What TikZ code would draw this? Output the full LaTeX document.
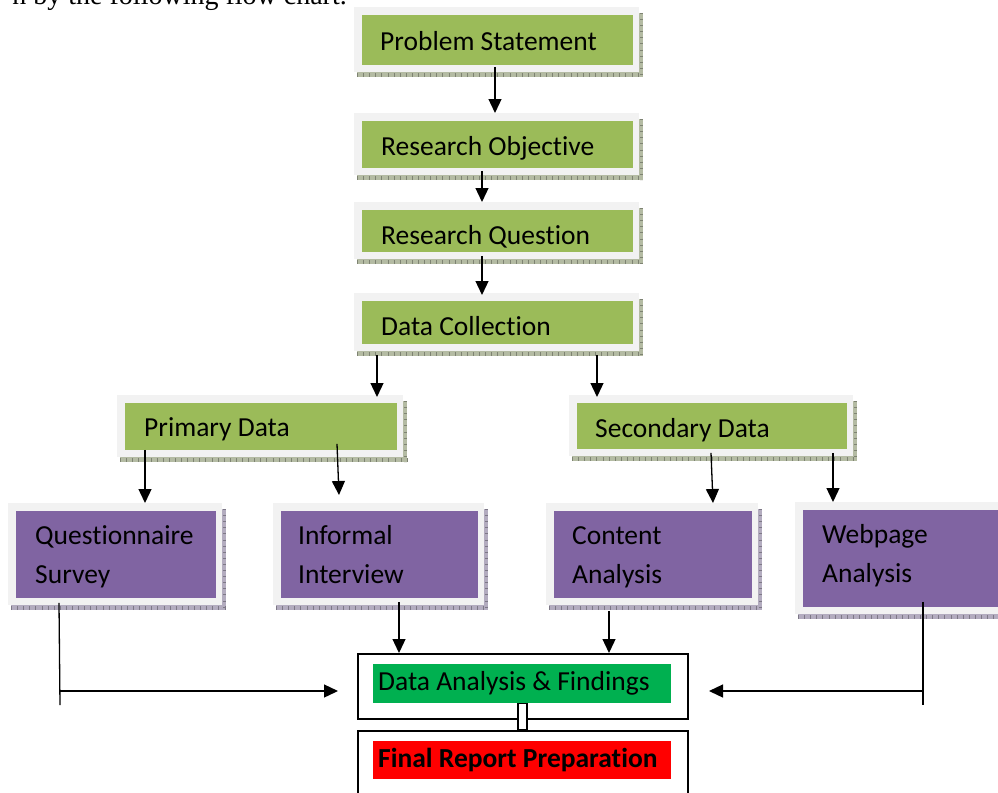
\documentclass[tikz,border=0pt]{standalone}
\usepackage{fontspec}
\setmainfont{Carlito}[Ligatures={NoCommon,NoContextual}]
\newfontfamily\serifx{Liberation Serif}
\usetikzlibrary{arrows.meta,calc}
\definecolor{boxgreen}{HTML}{9BBB59}
\definecolor{boxpurple}{HTML}{8064A2}
\definecolor{framegray}{HTML}{F2F2F2}
\definecolor{dagreen}{HTML}{00B050}
\definecolor{frred}{HTML}{FF0000}
\definecolor{shg}{HTML}{B4BBA3}
\definecolor{shp}{HTML}{B3ACBF}
\newcommand\mybox[7]{%
  \fill[#7] (#2+3,#3+6) rectangle (#4+4,#5+5);
  \draw[#7!70!black, line width=3.5pt, dash pattern=on 0.6pt off 5.5pt] (#2+3,#5+3.2) -- (#4+4,#5+3.2);
  \draw[#7!70!black, line width=3pt, dash pattern=on 0.6pt off 5.5pt] (#4+2.5,#3+6) -- (#4+2.5,#5+5);
  \node[fill=framegray, inner sep=0pt, minimum width={#4-#2}, minimum height={#5-#3}, anchor=north west] (#1) at (#2,#3) {};
  \node[fill=#6, inner sep=0pt, minimum width={#4-#2-14}, minimum height={#5-#3-15}, anchor=north west] (#1i) at (#2+7.5,#3+7.5) {};
}
\begin{document}
\begin{tikzpicture}[x=1pt,y=-1pt,
  txt/.style={anchor=base west, inner sep=0pt, font=\fontsize{27.5}{39}\selectfont},
  txt2/.style={txt, text width=200pt, align=left},
  arr/.style={line width=1.3pt, -{Triangle[length=14pt,width=13pt]}},
  ln/.style={line width=1.3pt}]
\useasboundingbox (0,0) rectangle (998,792);
\clip (0,0) rectangle (998,792);

% intro text (cut at top)
\node[anchor=base east, inner sep=0pt, font=\serifx\fontsize{28}{30}\selectfont] (intro) at (347,5) {n by the following flow chart.};

% green boxes
\mybox{ps}{354}{7}{639}{72}{boxgreen}{shg}
\mybox{ro}{354}{113}{639}{175}{boxgreen}{shg}
\mybox{rq}{354}{202}{639}{259}{boxgreen}{shg}
\mybox{dc}{354}{293}{639}{351}{boxgreen}{shg}
\mybox{pd}{117}{395}{403}{457}{boxgreen}{shg}
\mybox{sd}{569}{395}{853}{456}{boxgreen}{shg}

% purple boxes
\mybox{qs}{8}{503}{222}{605}{boxpurple}{shp}
\mybox{ii}{273}{503}{484}{605}{boxpurple}{shp}
\mybox{ca}{546}{503}{758}{605}{boxpurple}{shp}
\mybox{wa}{795}{502}{1012}{614}{boxpurple}{shp}

% texts
\node[txt] (pst) at (380,51) {Problem Statement};
\node[txt] (rot) at (381,155) {Research Objective};
\node[txt] (rqt) at (381,244) {Research Question};
\node[txt] (dct) at (381,335) {Data Collection};
\node[txt] (pdt) at (144,436) {Primary Data};
\node[txt] (sdt) at (595,437) {Secondary Data};
\node[txt2] (qst) at (35,544) {Questionnaire\\Survey};
\node[txt2] (iit) at (298,544) {Informal\\Interview};
\node[txt2] (cat) at (572,544) {Content\\Analysis};
\node[txt2] (wat) at (822,543) {Webpage\\Analysis};

% bottom boxes
\node[draw, line width=2pt, inner sep=0pt, minimum width=330, minimum height=65, anchor=north west] (da) at (357,653) {};
\node[fill=dagreen, inner sep=0pt, minimum width=298, minimum height=39, anchor=north west] (dai) at (373,664) {};
\node[txt] (dat) at (378,690) {Data Analysis \& Findings};
\node[draw, line width=2pt, inner sep=0pt, minimum width=330, minimum height=90, anchor=north west] (fr) at (357,730) {};
\node[fill=frred, inner sep=0pt, minimum width=298, minimum height=38, anchor=north west] (fri) at (373,741) {};
\node[txt, font=\bfseries\fontsize{27.5}{39}\selectfont] (frt) at (378,767) {Final Report Preparation};
\draw[line width=1.5pt, fill=white] (518,0 |- dai.south) rectangle (527,0 |- fr.north);

% connectors
\draw[arr] ($(psi.south -| 495,0)+(0,2)$) -- (495,0 |- ro.north);
\draw[arr] ($(roi.south -| 482,0)+(0,3)$) -- (482,0 |- rq.north);
\draw[arr] ($(rqi.south -| 482,0)+(0,4)$) -- ($(dc.north -| 482,0)+(0,2)$);
\draw[arr] ($(dc.south -| 377,0)+(0,4)$) -- ($(pd.north -| 377,0)+(0,2)$);
\draw[arr] ($(dc.south -| 597,0)+(0,4)$) -- ($(sd.north -| 597,0)+(0,2)$);
\draw[arr] (145,0 |- pdi.south) -- (145,0 |- qs.north);
\draw[arr] ($(pdi.south -| 337,0)+(0,-6)$) -- ($(ii.north -| 339,0)+(0,-8)$);
\draw[arr] ($(sdi.south -| 711,0)+(0,4)$) -- (713,0 |- ca.north);
\draw[arr] ($(sdi.south -| 833,0)+(0,4)$) -- (833,0 |- wa.north);
\draw[arr] ($(ii.south -| 399,0)+(0,-3)$) -- (399,0 |- da.north);
\draw[arr] ($(ca.south -| 609,0)+(0,6)$) -- (609,0 |- da.north);

\coordinate (qend) at (60,705);
\coordinate (qj) at (60,691);
\coordinate (wend) at (923,705);
\coordinate (wj) at (923,691);
\draw[ln] ($(qsi.south -| 59,0)+(0,5)$) -- (qend);
\draw[arr] (qj) -- ($(da.west |- qj)+(-19,0)$);
\draw[ln] ($(wai.south -| 923,0)+(0,-5)$) -- (wend);
\draw[arr] (wj) -- ($(da.east |- wj)+(20,0)$);
\end{tikzpicture}
\end{document}
